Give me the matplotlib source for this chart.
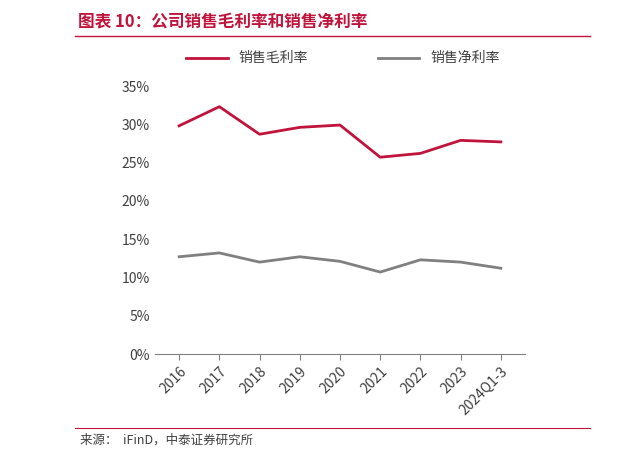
import matplotlib.pyplot as plt
from matplotlib.ticker import PercentFormatter

plt.rcParams['font.family'] = ['Noto Sans CJK SC', 'DejaVu Sans']

years = ['2016', '2017', '2018', '2019', '2020', '2021', '2022', '2023', '2024Q1-3']
gross_margin = [29.8, 32.3, 28.7, 29.6, 29.9, 25.7, 26.2, 27.9, 27.7]
net_margin = [12.7, 13.2, 12.0, 12.7, 12.1, 10.7, 12.3, 12.0, 11.2]

fig = plt.figure(figsize=(6.21, 4.59), dpi=100)
ax = fig.add_axes([155 / 621, 1 - 354 / 459, 370 / 621, 268 / 459])

x = range(len(years))
ax.plot(x, gross_margin, color='#C0143C', lw=2, label='销售毛利率')
ax.plot(x, net_margin, color='#808080', lw=2, label='销售净利率')

ax.set_ylim(0, 35)
ax.set_xlim(-0.6, len(years) - 0.4)
ax.set_yticks(range(0, 36, 5))
ax.yaxis.set_major_formatter(PercentFormatter(decimals=0))
ax.set_xticks(list(x))
ax.set_xticklabels(years, rotation=45, ha='right', rotation_mode='anchor')
ax.tick_params(labelsize=10, colors='#404040', length=0)
ax.tick_params(axis='x', length=4, color='#808080')
for s in ['top', 'right', 'left']:
    ax.spines[s].set_visible(False)
ax.spines['bottom'].set_color('#808080')

ax.legend(loc='lower left', bbox_to_anchor=(0.05, 1.03), ncol=2, frameon=False,
          fontsize=10, handlelength=3, columnspacing=5, labelcolor='#404040')

fig.text(78 / 621, 1 - 22 / 459, '图表 10：公司销售毛利率和销售净利率', color='#C0143C',
         fontsize=12, fontweight='bold', style='italic', va='center')
fig.add_artist(plt.Line2D([75 / 621, 590 / 621], [1 - 36 / 459] * 2, color='#C0143C', lw=1))
fig.add_artist(plt.Line2D([75 / 621, 590 / 621], [1 - 428 / 459] * 2, color='#C0143C', lw=0.8))
fig.text(80 / 621, 1 - 440 / 459, '来源：  iFinD，中泰证券研究所', fontsize=9, color='#404040', va='center')

fig.savefig('out.png')
